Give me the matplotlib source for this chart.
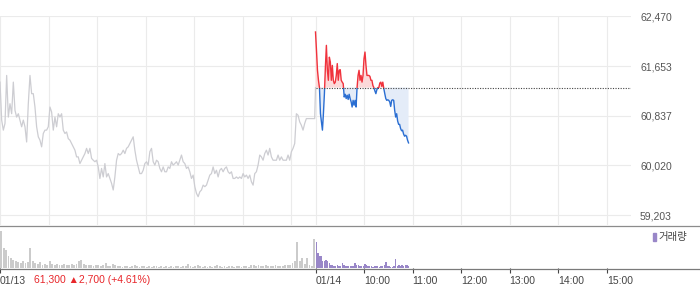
import matplotlib
matplotlib.use('Agg')
import matplotlib.pyplot as plt
from matplotlib.lines import Line2D
from matplotlib.patches import Rectangle
import numpy as np

plt.rcParams['font.family'] = ['Liberation Sans', 'DejaVu Sans', 'Noto Sans CJK KR']

# previous session (01/13), ~2 min samples from 09:00, last value = close auction
prev_price = [
    61390, 60765, 60600, 60710, 61500, 60815, 61035, 60870, 61390, 60925,
    60815, 60870, 60765, 60655, 60765, 60655, 60405, 61035, 61500, 61200,
    61200, 60980, 60655, 60490, 60435, 60325, 60545, 60600, 60600, 60655,
    60980, 60900, 60600, 60815, 60655, 60870, 60815, 60870, 60600, 60545,
    60570, 60460, 60435, 60380, 60325, 60270, 60160, 60160, 60050, 60105,
    60160, 60215, 60300, 60215, 60300, 60135, 60105, 60080, 60105, 59995,
    59805, 59970, 59830, 60050, 59830, 59885, 59805, 59725, 59615, 59830,
    60105, 60215, 60190, 60215, 60270, 60215, 60300, 60325, 60380, 60435,
    60490, 60270, 60105, 59995, 59885, 59885, 59940, 60050, 60080, 60025,
    60245, 60300, 60080, 60025, 60105, 60080, 59970, 59915, 59995, 59915,
    59915, 59995, 59970, 60080, 60025, 60050, 60080, 60025, 60105, 60190,
    60080, 60050, 59970, 59995, 59915, 59805, 59860, 59670, 59560, 59505,
    59585, 59615, 59695, 59670, 59695, 59780, 59860, 59885, 59995, 59885,
    59940, 59830, 59940, 59970, 59915, 59970, 59995, 59915, 59885, 59915,
    59805, 59805, 59830, 59805, 59830, 59805, 59885, 59830, 59860, 59805,
    59860, 59750, 59695, 59885, 59915, 60025, 60190, 60160, 60105, 60215,
    60270, 60190, 60300, 60160, 60105, 60105, 60105, 60190, 60105, 60160,
    60105, 60105, 60105, 60190, 60105, 60245, 60300, 60380, 60870, 60845,
    60735, 60680, 60600, 60710, 60790, 60790, 60790, 60790, 60790, 60790,
]
prev_close = 61300

# today (01/14), about 1 min samples from 09:00
today_price = [
    62215, 61910, 61585, 61420, 61300, 60870, 60735, 60600, 60870, 61200,
    61640, 61995, 61585, 61420, 61800, 61720, 61420, 61665, 61420, 61365,
    61390, 61500, 61695, 61420, 61585, 61595, 61420, 61390, 61365, 61145,
    61190, 61120, 61175, 61105, 61190, 61120, 61065, 60980, 61090, 61010,
    61090, 60980, 61300, 61500, 61585, 61420, 61500, 61390, 61500, 61775,
    61885, 61665, 61500, 61500, 61500, 61485, 61420, 61420, 61335, 61300,
    61245, 61200, 61265, 61300, 61300, 61375, 61390, 61320, 61390, 61285,
    61200, 61120, 61090, 61100, 61090, 61065, 60990, 61090, 61100, 61090,
    60925, 60815, 60870, 60750, 60695, 60695, 60625, 60590, 60600, 60535,
    60500, 60515, 60500, 60435, 60390,
]
today_minutes = 115

# volume, 3 min bins for 01/13, 2 min bins for 01/14
prev_vol = [
    110, 60, 55, 35, 30, 25, 20, 18, 15, 20, 15, 18, 60, 20, 15, 12, 18, 10, 12, 10,
    20, 12, 10, 12, 8, 10, 12, 8, 10, 12, 10, 12, 20, 25, 12, 8, 10, 8, 6, 10,
    8, 6, 8, 15, 6, 5, 12, 10, 6, 5, 4, 6, 5, 4, 6, 8, 5, 4, 5, 6,
    4, 5, 4, 6, 5, 4, 5, 4, 6, 4, 5, 4, 6, 5, 4, 5, 6, 12, 5, 4,
    6, 8, 5, 4, 6, 4, 5, 4, 6, 10, 5, 4, 6, 4, 5, 6, 4, 5, 6, 4,
    5, 6, 4, 8, 10, 6, 8, 5, 6, 10, 6, 5, 6, 8, 5, 6, 6, 8, 10, 8,
    15, 20, 77, 20, 30, 12, 30, 8, 5, 86,
]
today_vol = [
    77, 45, 35, 35, 22, 20, 25, 20, 16, 10, 10, 6, 7, 9, 7, 5, 15, 8, 7, 6,
    5, 5, 6, 6, 15, 10, 8, 6, 5, 6, 12, 8, 5, 7, 5, 4, 6, 7, 5, 4,
    6, 5, 10, 18, 6, 5, 4, 3, 6, 27, 6, 8, 6, 10, 7, 10, 8, 6,
]

price_ticks = [59203, 60020, 60837, 61653, 62470]
time_ticks = [0, 390, 450, 510, 570, 630, 690, 750]
time_labels = ['01/13', '01/14', '10:00', '11:00', '12:00', '13:00', '14:00', '15:00']

RED = '#f0323c'
BLUE = '#2a6ed2'
GRAY = '#cdcdd2'
PURPLE = '#9987c8'

W, H = 700, 289
fig = plt.figure(figsize=(W / 100, H / 100), dpi=100)
ax = fig.add_axes([0, 1 - 225 / H, 631 / W, 209 / H])
vax = fig.add_axes([0, 1 - 268 / H, 631 / W, 42 / H])

# price panel
prev_t = list(np.linspace(0, 389, len(prev_price))) + [390]
ax.plot(prev_t, prev_price + [prev_close], color=GRAY, lw=0.9, zorder=3)

t = np.linspace(390, 390 + today_minutes, len(today_price))
p = np.array(today_price)
ax.fill_between(t, p, prev_close, where=p >= prev_close, interpolate=True,
                color='#fcd9d9', lw=0, zorder=2)
ax.fill_between(t, p, prev_close, where=p <= prev_close, interpolate=True,
                color='#e4ecf8', lw=0, zorder=2)
up, = ax.plot(t, p, color=RED, lw=1.0, zorder=4)
dn, = ax.plot(t, p, color=BLUE, lw=1.0, zorder=4)
up.set_clip_path(Rectangle((380, prev_close), 500, 5000, transform=ax.transData))
dn.set_clip_path(Rectangle((380, prev_close - 5000), 500, 5000, transform=ax.transData))
ax.hlines(prev_close, 390, 780, colors='#444444', linestyles=(0, (1, 1.3)), lw=0.8, zorder=5)

ax.set_xlim(0, 780)
ax.set_ylim(59039, 62478)
ax.set_xticks(list(range(0, 390, 60)) + [390] + list(range(450, 780, 60)))
ax.set_yticks(price_ticks)
ax.set_yticklabels([f'{v:,}' for v in price_ticks])
ax.yaxis.tick_right()
ax.tick_params(axis='x', length=0, labelbottom=False)
ax.tick_params(axis='y', length=0, pad=6.5, labelsize=7.5, labelcolor='#555555')
ax.grid(color='#ebebeb', lw=0.8, zorder=0)
for s in ax.spines.values():
    s.set_visible(False)

# volume panel
pv_x = np.arange(len(prev_vol)) * 3 + 1.5
vax.bar(pv_x, prev_vol, width=2.3, color='#cbcbcb', lw=0)
tv_x = 390 + np.arange(len(today_vol)) * 2 + 1
vax.bar(tv_x, today_vol, width=1.7, color=PURPLE, lw=0)
vax.set_xlim(0, 780)
vax.set_ylim(0, 126)
vax.set_yticks([])
vax.set_xticks(time_ticks)
vax.set_xticklabels(time_labels, ha='left')
vax.tick_params(axis='x', length=3.6, width=0.8, color='#444444', pad=2,
                labelsize=7.5, labelcolor='#444444')
for s in vax.spines.values():
    s.set_visible(False)

# frame lines across the full width
fig.add_artist(Line2D([0, 1], [1 - 225.5 / H] * 2, color='#8c8c8c', lw=0.9))
fig.add_artist(Line2D([0, 1], [1 - 268.5 / H] * 2, color='#7a7a7a', lw=0.9))

fig.text(34 / W, 1 - 280 / H, '61,300 \u25b22,700 (+4.61%)', color='#e8272b',
         fontsize=7.5, va='center', ha='left')
fig.add_artist(Rectangle((653 / W, 1 - 241 / H), 3 / W, 8 / H, color=PURPLE,
                         transform=fig.transFigure))
fig.text(658 / W, 1 - 237 / H, '거래량', color='#444444', fontsize=7.5,
         va='center', ha='left', family=['Noto Sans CJK KR'])

fig.savefig('out.png', dpi=100)
